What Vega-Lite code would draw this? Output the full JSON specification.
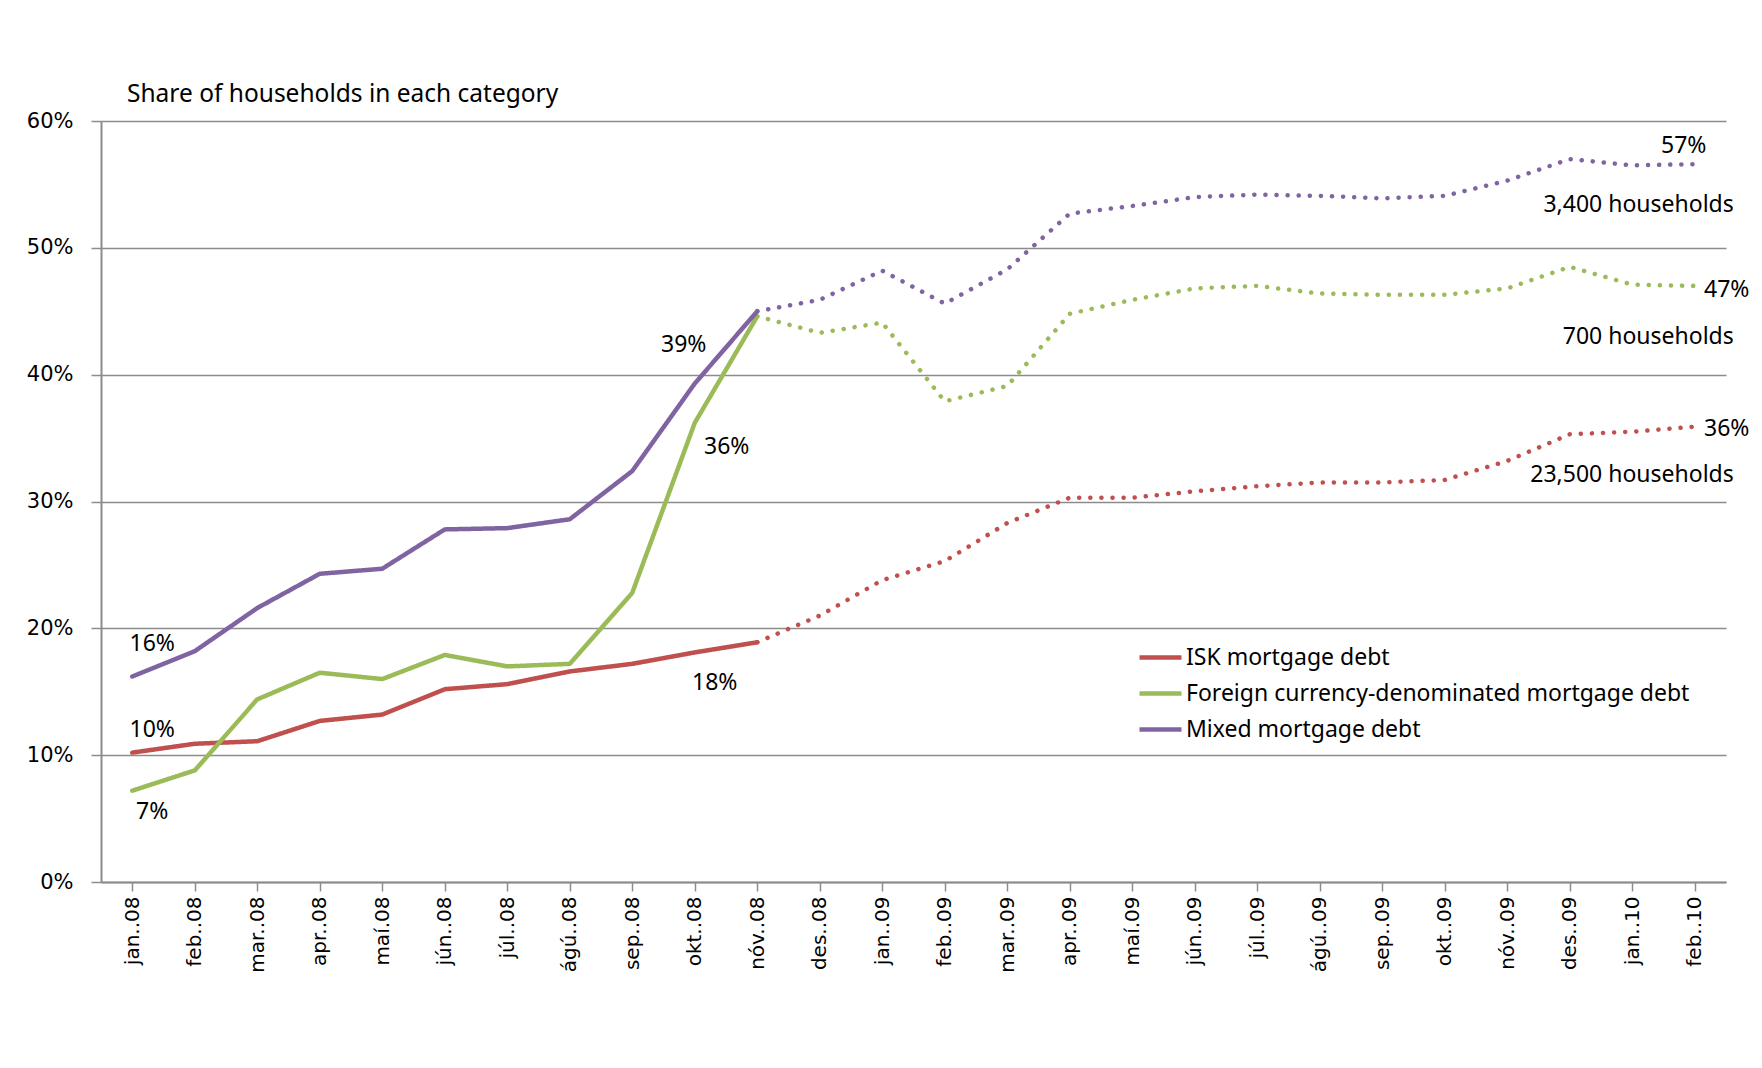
{
  "$schema": "https://vega.github.io/schema/vega-lite/v6.json",
  "autosize": "none",
  "width": 1625,
  "height": 761,
  "padding": {"left": 101, "top": 121, "right": 36, "bottom": 186},
  "background": "white",
  "title": {"text": "Share of households  in each category", "anchor": "start", "frame": "group", "dx": 26, "offset": 3, "fontSize": 24.5, "font": "Noto Sans", "fontWeight": "normal", "color": "#000000"},
  "config": {"view": {"stroke": null}, "font": "Noto Sans"},
  "datasets": {
    "lines": [
      {"month": "jan..08", "series": "ISK mortgage debt", "segment": "actual", "value": 10.2},
      {"month": "feb..08", "series": "ISK mortgage debt", "segment": "actual", "value": 10.9},
      {"month": "mar..08", "series": "ISK mortgage debt", "segment": "actual", "value": 11.1},
      {"month": "apr..08", "series": "ISK mortgage debt", "segment": "actual", "value": 12.7},
      {"month": "maí.08", "series": "ISK mortgage debt", "segment": "actual", "value": 13.2},
      {"month": "jún..08", "series": "ISK mortgage debt", "segment": "actual", "value": 15.2},
      {"month": "júl..08", "series": "ISK mortgage debt", "segment": "actual", "value": 15.6},
      {"month": "ágú..08", "series": "ISK mortgage debt", "segment": "actual", "value": 16.6},
      {"month": "sep..08", "series": "ISK mortgage debt", "segment": "actual", "value": 17.2},
      {"month": "okt..08", "series": "ISK mortgage debt", "segment": "actual", "value": 18.1},
      {"month": "nóv..08", "series": "ISK mortgage debt", "segment": "actual", "value": 18.9},
      {"month": "nóv..08", "series": "ISK mortgage debt", "segment": "later", "value": 18.9},
      {"month": "des..08", "series": "ISK mortgage debt", "segment": "later", "value": 21.0},
      {"month": "jan..09", "series": "ISK mortgage debt", "segment": "later", "value": 23.8},
      {"month": "feb..09", "series": "ISK mortgage debt", "segment": "later", "value": 25.3},
      {"month": "mar..09", "series": "ISK mortgage debt", "segment": "later", "value": 28.3},
      {"month": "apr..09", "series": "ISK mortgage debt", "segment": "later", "value": 30.3},
      {"month": "maí.09", "series": "ISK mortgage debt", "segment": "later", "value": 30.3},
      {"month": "jún..09", "series": "ISK mortgage debt", "segment": "later", "value": 30.8},
      {"month": "júl..09", "series": "ISK mortgage debt", "segment": "later", "value": 31.2},
      {"month": "ágú..09", "series": "ISK mortgage debt", "segment": "later", "value": 31.5},
      {"month": "sep..09", "series": "ISK mortgage debt", "segment": "later", "value": 31.5},
      {"month": "okt..09", "series": "ISK mortgage debt", "segment": "later", "value": 31.7},
      {"month": "nóv..09", "series": "ISK mortgage debt", "segment": "later", "value": 33.2},
      {"month": "des..09", "series": "ISK mortgage debt", "segment": "later", "value": 35.3},
      {"month": "jan..10", "series": "ISK mortgage debt", "segment": "later", "value": 35.5},
      {"month": "feb..10", "series": "ISK mortgage debt", "segment": "later", "value": 35.9},

      {"month": "jan..08", "series": "Foreign currency-denominated mortgage debt", "segment": "actual", "value": 7.2},
      {"month": "feb..08", "series": "Foreign currency-denominated mortgage debt", "segment": "actual", "value": 8.8},
      {"month": "mar..08", "series": "Foreign currency-denominated mortgage debt", "segment": "actual", "value": 14.4},
      {"month": "apr..08", "series": "Foreign currency-denominated mortgage debt", "segment": "actual", "value": 16.5},
      {"month": "maí.08", "series": "Foreign currency-denominated mortgage debt", "segment": "actual", "value": 16.0},
      {"month": "jún..08", "series": "Foreign currency-denominated mortgage debt", "segment": "actual", "value": 17.9},
      {"month": "júl..08", "series": "Foreign currency-denominated mortgage debt", "segment": "actual", "value": 17.0},
      {"month": "ágú..08", "series": "Foreign currency-denominated mortgage debt", "segment": "actual", "value": 17.2},
      {"month": "sep..08", "series": "Foreign currency-denominated mortgage debt", "segment": "actual", "value": 22.8},
      {"month": "okt..08", "series": "Foreign currency-denominated mortgage debt", "segment": "actual", "value": 36.2},
      {"month": "nóv..08", "series": "Foreign currency-denominated mortgage debt", "segment": "actual", "value": 44.6},
      {"month": "nóv..08", "series": "Foreign currency-denominated mortgage debt", "segment": "later", "value": 44.6},
      {"month": "des..08", "series": "Foreign currency-denominated mortgage debt", "segment": "later", "value": 43.3},
      {"month": "jan..09", "series": "Foreign currency-denominated mortgage debt", "segment": "later", "value": 44.1},
      {"month": "feb..09", "series": "Foreign currency-denominated mortgage debt", "segment": "later", "value": 37.9},
      {"month": "mar..09", "series": "Foreign currency-denominated mortgage debt", "segment": "later", "value": 39.1},
      {"month": "apr..09", "series": "Foreign currency-denominated mortgage debt", "segment": "later", "value": 44.8},
      {"month": "maí.09", "series": "Foreign currency-denominated mortgage debt", "segment": "later", "value": 45.9},
      {"month": "jún..09", "series": "Foreign currency-denominated mortgage debt", "segment": "later", "value": 46.8},
      {"month": "júl..09", "series": "Foreign currency-denominated mortgage debt", "segment": "later", "value": 47.0},
      {"month": "ágú..09", "series": "Foreign currency-denominated mortgage debt", "segment": "later", "value": 46.4},
      {"month": "sep..09", "series": "Foreign currency-denominated mortgage debt", "segment": "later", "value": 46.3},
      {"month": "okt..09", "series": "Foreign currency-denominated mortgage debt", "segment": "later", "value": 46.3},
      {"month": "nóv..09", "series": "Foreign currency-denominated mortgage debt", "segment": "later", "value": 46.8},
      {"month": "des..09", "series": "Foreign currency-denominated mortgage debt", "segment": "later", "value": 48.5},
      {"month": "jan..10", "series": "Foreign currency-denominated mortgage debt", "segment": "later", "value": 47.1},
      {"month": "feb..10", "series": "Foreign currency-denominated mortgage debt", "segment": "later", "value": 47.0},

      {"month": "jan..08", "series": "Mixed mortgage debt", "segment": "actual", "value": 16.2},
      {"month": "feb..08", "series": "Mixed mortgage debt", "segment": "actual", "value": 18.2},
      {"month": "mar..08", "series": "Mixed mortgage debt", "segment": "actual", "value": 21.6},
      {"month": "apr..08", "series": "Mixed mortgage debt", "segment": "actual", "value": 24.3},
      {"month": "maí.08", "series": "Mixed mortgage debt", "segment": "actual", "value": 24.7},
      {"month": "jún..08", "series": "Mixed mortgage debt", "segment": "actual", "value": 27.8},
      {"month": "júl..08", "series": "Mixed mortgage debt", "segment": "actual", "value": 27.9},
      {"month": "ágú..08", "series": "Mixed mortgage debt", "segment": "actual", "value": 28.6},
      {"month": "sep..08", "series": "Mixed mortgage debt", "segment": "actual", "value": 32.4},
      {"month": "okt..08", "series": "Mixed mortgage debt", "segment": "actual", "value": 39.3},
      {"month": "nóv..08", "series": "Mixed mortgage debt", "segment": "actual", "value": 45.0},
      {"month": "nóv..08", "series": "Mixed mortgage debt", "segment": "later", "value": 45.0},
      {"month": "des..08", "series": "Mixed mortgage debt", "segment": "later", "value": 45.9},
      {"month": "jan..09", "series": "Mixed mortgage debt", "segment": "later", "value": 48.2},
      {"month": "feb..09", "series": "Mixed mortgage debt", "segment": "later", "value": 45.6},
      {"month": "mar..09", "series": "Mixed mortgage debt", "segment": "later", "value": 48.3},
      {"month": "apr..09", "series": "Mixed mortgage debt", "segment": "later", "value": 52.7},
      {"month": "maí.09", "series": "Mixed mortgage debt", "segment": "later", "value": 53.3},
      {"month": "jún..09", "series": "Mixed mortgage debt", "segment": "later", "value": 54.0},
      {"month": "júl..09", "series": "Mixed mortgage debt", "segment": "later", "value": 54.2},
      {"month": "ágú..09", "series": "Mixed mortgage debt", "segment": "later", "value": 54.1},
      {"month": "sep..09", "series": "Mixed mortgage debt", "segment": "later", "value": 53.9},
      {"month": "okt..09", "series": "Mixed mortgage debt", "segment": "later", "value": 54.1},
      {"month": "nóv..09", "series": "Mixed mortgage debt", "segment": "later", "value": 55.3},
      {"month": "des..09", "series": "Mixed mortgage debt", "segment": "later", "value": 57.0},
      {"month": "jan..10", "series": "Mixed mortgage debt", "segment": "later", "value": 56.5},
      {"month": "feb..10", "series": "Mixed mortgage debt", "segment": "later", "value": 56.6}
    ],
    "labA": [
      {"month": "jan..08", "value": 18.8, "label": "16%"},
      {"month": "jan..08", "value": 12.0, "label": "10%"},
      {"month": "jan..08", "value": 5.5, "label": "7%"},
      {"month": "okt..08", "value": 15.7, "label": "18%"}
    ],
    "labB": [
      {"month": "okt..08", "value": 42.3, "label": "39%"},
      {"month": "feb..10", "value": 58.0, "label": "57%"}
    ],
    "labC": [
      {"month": "okt..08", "value": 34.3, "label": "36%"},
      {"month": "feb..10", "value": 46.7, "label": "47%"},
      {"month": "feb..10", "value": 35.7, "label": "36%"}
    ],
    "labD": [
      {"month": "feb..10", "value": 53.4, "label": "3,400 households"},
      {"month": "feb..10", "value": 43.0, "label": "700 households"},
      {"month": "feb..10", "value": 32.1, "label": "23,500 households"}
    ]
  },
  "encoding": {
    "x": {
      "field": "month", "type": "ordinal",
      "scale": {"domain": ["jan..08","feb..08","mar..08","apr..08","maí.08","jún..08","júl..08","ágú..08","sep..08","okt..08","nóv..08","des..08","jan..09","feb..09","mar..09","apr..09","maí.09","jún..09","júl..09","ágú..09","sep..09","okt..09","nóv..09","des..09","jan..10","feb..10"], "paddingInner": 0, "paddingOuter": 0},
      "axis": {"title": null, "labelAngle": -90, "labelFont": "DejaVu Sans", "labelFontSize": 20, "labelColor": "#000000", "bandPosition": 0, "tickSize": 9, "tickColor": "#8c8c8c", "tickWidth": 1.5, "domainColor": "#8c8c8c", "domainWidth": 2, "labelPadding": 5, "grid": false}
    },
    "y": {
      "field": "value", "type": "quantitative",
      "scale": {"domain": [0, 60], "nice": false, "zero": true},
      "axis": {"title": null, "values": [0,10,20,30,40,50,60], "labelExpr": "datum.value + '%'", "labelFont": "DejaVu Sans", "labelFontSize": 21, "labelColor": "#000000", "tickSize": 10, "tickColor": "#8c8c8c", "tickWidth": 1.5, "domainColor": "#8c8c8c", "domainWidth": 2, "labelPadding": 18, "gridColor": "#8c8c8c", "gridWidth": 1.5}
    }
  },
  "layer": [
    {
      "data": {"name": "lines"},
      "mark": {"type": "line", "strokeWidth": 4.5, "strokeCap": "round", "strokeJoin": "round"},
      "encoding": {
        "color": {
          "field": "series", "type": "nominal",
          "scale": {"domain": ["ISK mortgage debt", "Foreign currency-denominated mortgage debt", "Mixed mortgage debt"], "range": ["#C0504D", "#9BBB59", "#8064A2"]},
          "legend": {"title": null, "orient": "none", "legendX": 1036, "legendY": 513, "symbolType": "stroke", "symbolSize": 1764, "symbolStrokeWidth": 4.5, "labelFontSize": 23, "labelFont": "Noto Sans", "labelColor": "#000000", "labelOffset": 2, "rowPadding": 0, "labelLimit": 800, "padding": 0}
        },
        "strokeDash": {
          "field": "segment", "type": "nominal",
          "scale": {"domain": ["actual", "later"], "range": [[1, 0], [0.1, 11]]},
          "legend": null
        }
      }
    },
    {
      "data": {"name": "labA"},
      "mark": {"type": "text", "fontSize": 23, "font": "Noto Sans", "color": "#000000", "align": "center", "baseline": "middle", "dx": 20},
      "encoding": {"text": {"field": "label"}}
    },
    {
      "data": {"name": "labB"},
      "mark": {"type": "text", "fontSize": 23, "font": "Noto Sans", "color": "#000000", "align": "center", "baseline": "middle", "dx": -11},
      "encoding": {"text": {"field": "label"}}
    },
    {
      "data": {"name": "labC"},
      "mark": {"type": "text", "fontSize": 23, "font": "Noto Sans", "color": "#000000", "align": "center", "baseline": "middle", "dx": 32},
      "encoding": {"text": {"field": "label"}}
    },
    {
      "data": {"name": "labD"},
      "mark": {"type": "text", "fontSize": 23, "font": "Noto Sans", "color": "#000000", "align": "right", "baseline": "middle", "dx": 39},
      "encoding": {"text": {"field": "label"}}
    }
  ]
}
